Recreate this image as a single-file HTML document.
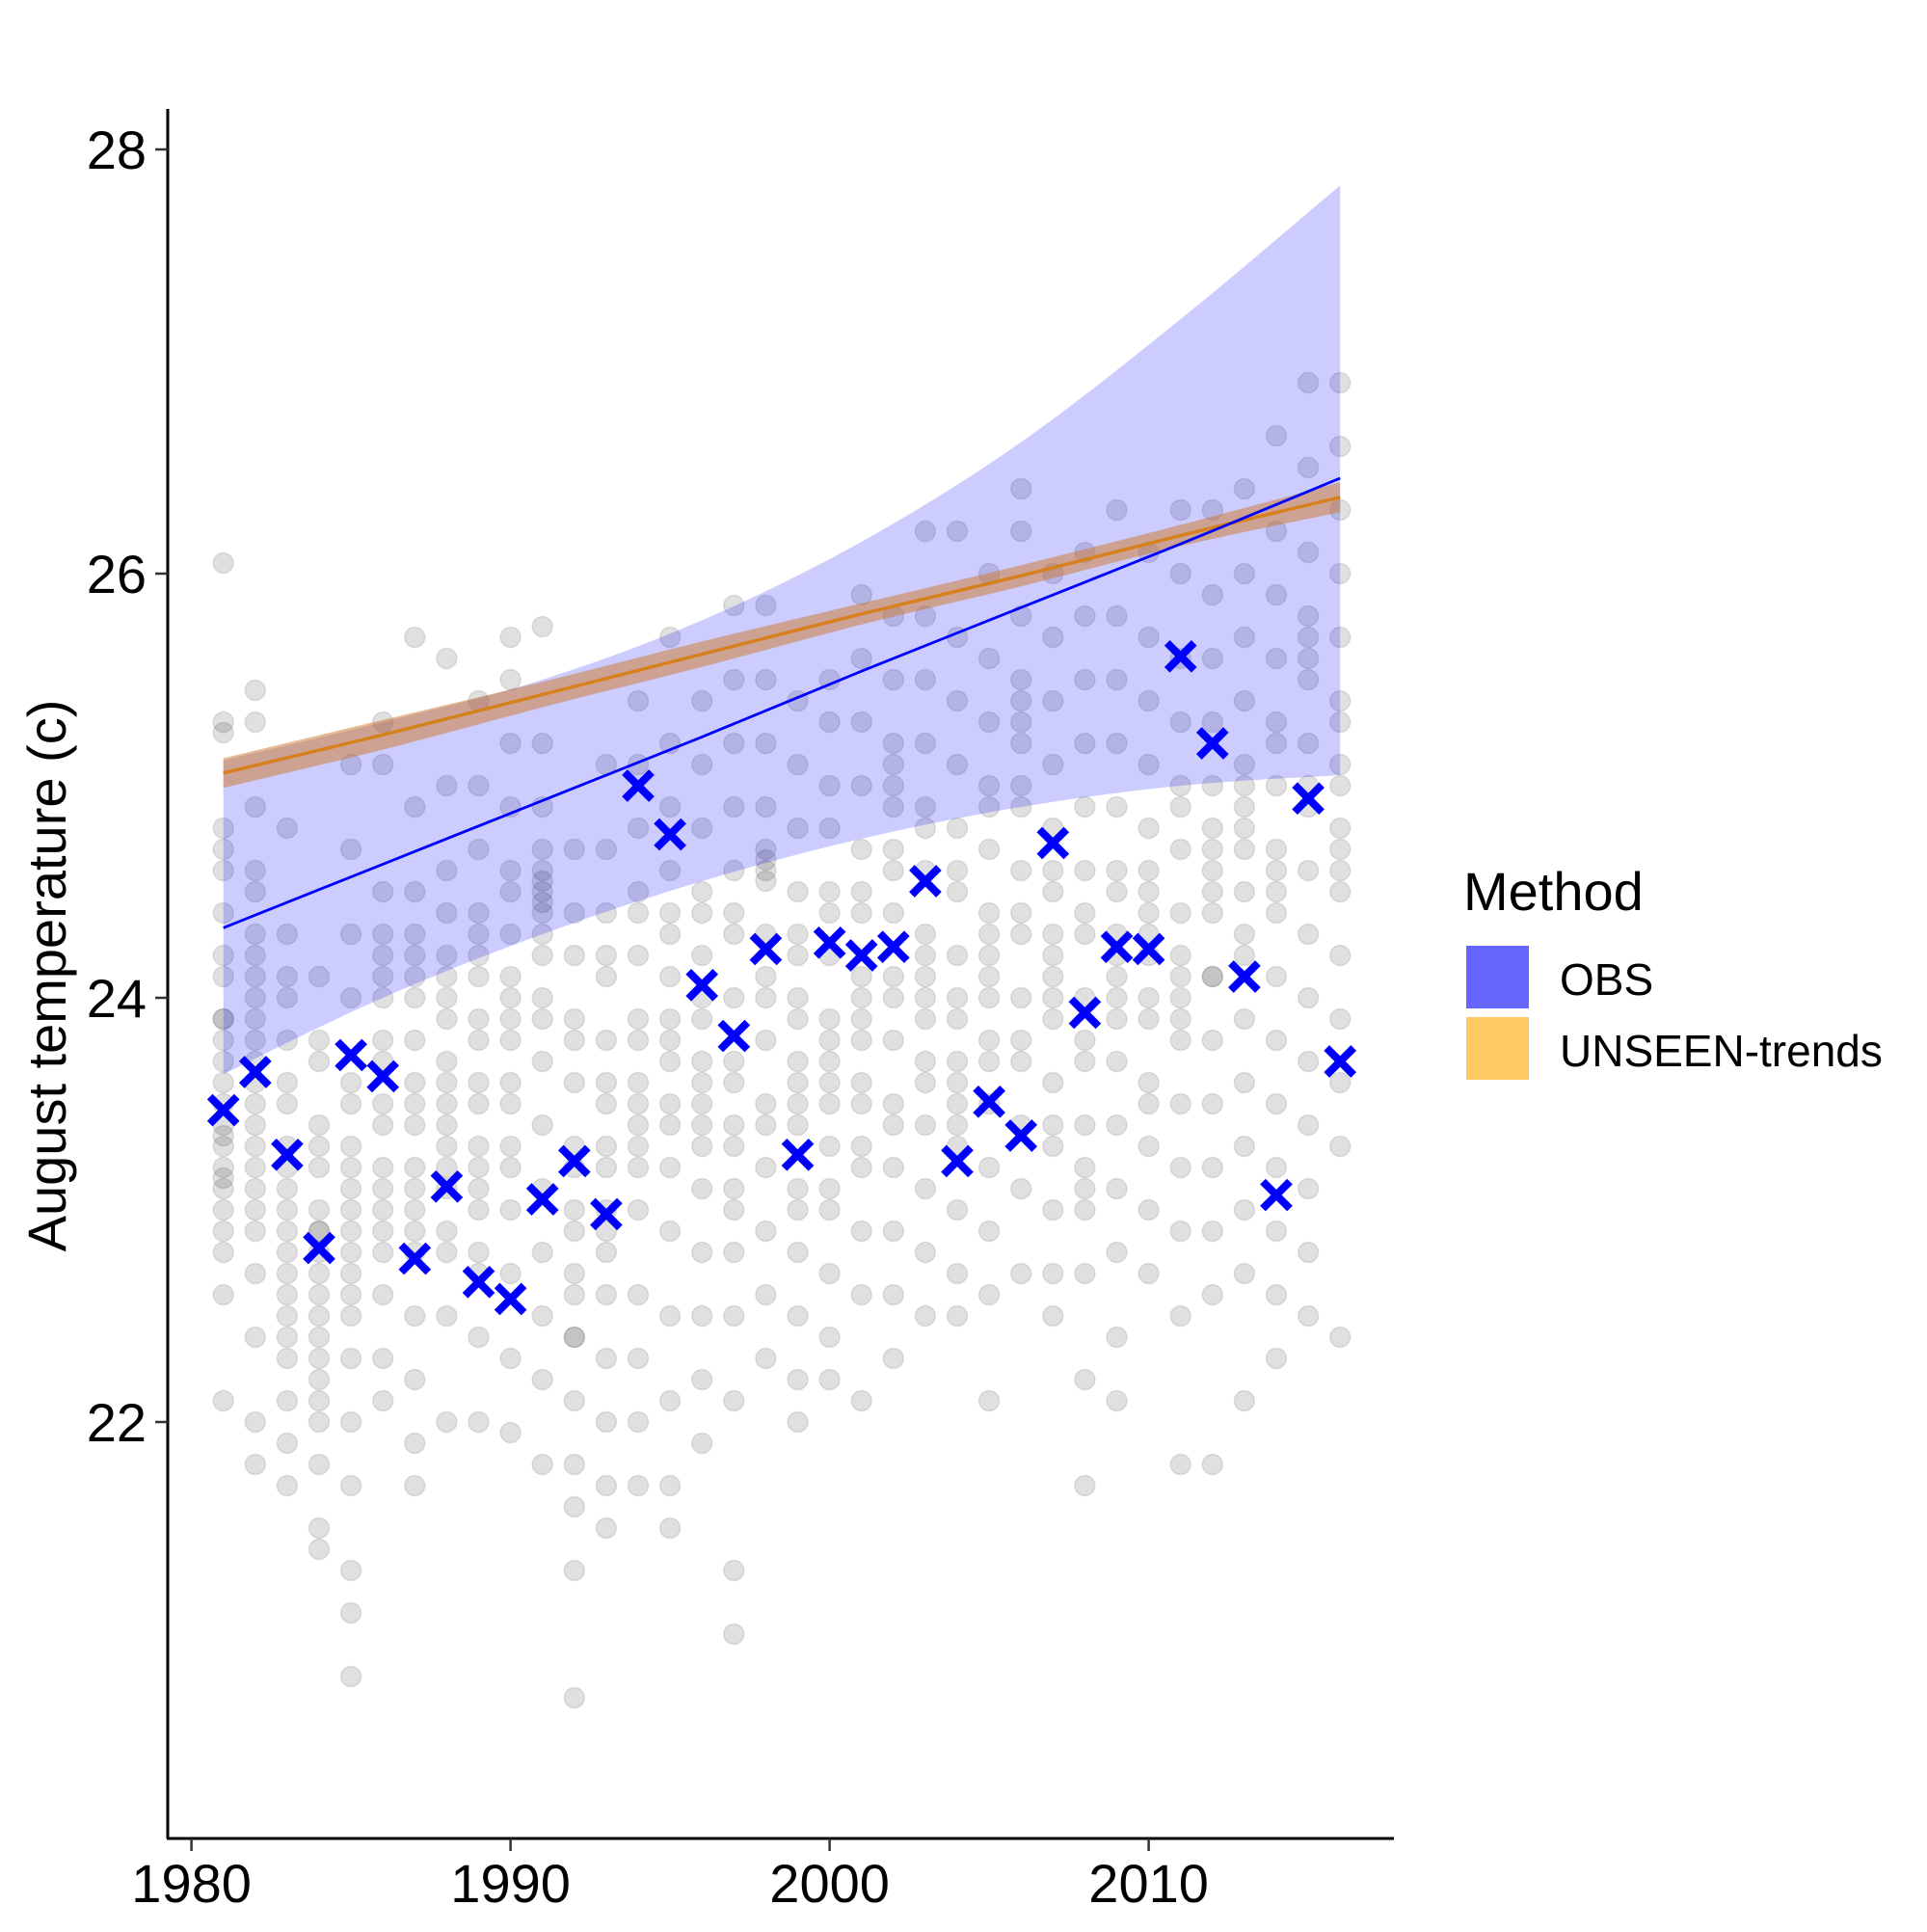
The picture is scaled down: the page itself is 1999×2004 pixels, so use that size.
<!DOCTYPE html>
<html><head><meta charset="utf-8"><style>
html,body{margin:0;padding:0;background:#fff;}
svg text{font-family:"Liberation Sans",Arial,sans-serif;}
</style></head><body>
<svg id="chart" width="1999" height="1999" viewBox="0 0 1999 1999" xmlns="http://www.w3.org/2000/svg">
<g id="pts"></g>
<g id="bands"></g>
<g id="lines"></g>
<g id="obs"></g>
<g id="axes"></g>
<text x="0" y="0" font-size="56" text-anchor="middle" transform="translate(68,1012) rotate(-90)">August temperature (c)</text>
<g>
<text x="1518" y="944" font-size="56">Method</text>
<rect x="1521" y="981" width="65" height="65" fill="#6666ff"/>
<rect x="1521" y="1055" width="65" height="65" fill="#ffc966"/>
<text x="1618" y="1032" font-size="46">OBS</text>
<text x="1618" y="1106" font-size="46">UNSEEN-trends</text>
</g>
</svg>
<script>
const years = [1981,1982,1983,1984,1985,1986,1987,1988,1989,1990,1991,1992,1993,1994,1995,1996,1997,1998,1999,2000,2001,2002,2003,2004,2005,2006,2007,2008,2009,2010,2011,2012,2013,2014,2015,2016];
const obsValues = [23.47,23.65,23.26,22.82,23.73,23.63,22.77,23.11,22.66,22.58,23.05,23.23,22.98,25.0,24.77,24.06,23.82,24.23,23.26,24.26,24.20,24.24,24.55,23.23,23.51,23.35,24.73,23.93,24.24,24.23,25.61,25.20,24.10,23.07,24.94,23.70];
const ensemble = [
[26.05,25.3,25.25,24.8,24.6,24.4,24.1,23.9,23.7,23.5,23.3,23.1,22.9,22.6,22.1,24.2,23.8,23.0,24.7,23.4,22.8,23.2,23.6,23.9,23.35,23.15],
[25.45,25.3,24.9,24.5,24.3,24.1,23.9,23.7,23.5,23.3,23.1,22.7,22.4,22.0,21.8,24.0,23.6,23.2,22.9,24.6,24.2,23.8,23.4,23.0],
[24.8,24.3,24.0,23.8,23.5,23.3,23.1,22.9,22.7,22.5,22.3,22.1,21.9,21.7,23.6,23.2,22.8,24.1,22.6,22.4,23.0],
[24.1,23.8,23.4,23.2,23.0,22.8,22.6,22.4,22.2,22.0,21.8,21.5,21.4,23.3,22.9,22.5,22.1,23.7,22.7,22.3,22.9],
[25.1,24.7,24.3,24.0,23.6,23.3,23.0,22.8,22.6,22.3,22.0,21.7,21.3,21.1,20.8,23.2,22.9,22.5,23.5,22.7,23.1],
[25.3,25.1,24.5,24.2,24.0,23.7,23.4,23.1,22.9,22.6,22.3,22.1,24.3,23.8,23.2,22.8,23.5,23.0,24.1],
[25.7,24.9,24.5,24.2,24.0,23.8,23.5,23.2,23.0,22.8,22.5,22.2,21.9,21.7,24.1,23.6,23.1,24.3,23.4,22.9],
[25.6,25.0,24.6,24.4,24.1,23.9,23.6,23.4,23.1,22.8,22.5,22.0,24.2,23.7,23.3,22.9,23.5,23.2,24.0],
[25.4,25.0,24.7,24.4,24.2,23.9,23.6,23.3,23.0,22.7,22.4,22.0,24.1,23.8,23.2,22.8,23.5,23.1,24.3],
[25.7,25.5,25.2,24.9,24.6,24.3,24.0,23.8,23.5,23.2,23.0,22.7,22.3,21.95,24.5,24.1,23.6,23.3,23.9],
[25.75,25.2,24.9,24.7,24.5,24.3,24.0,23.7,23.4,23.1,22.8,22.5,22.2,21.8,24.6,24.4,23.9,24.55,24.45,24.2],
[24.7,24.4,24.2,23.9,23.6,23.3,23.0,22.7,22.4,22.1,21.8,21.6,21.3,20.7,23.8,23.2,22.6,22.4,22.9],
[25.1,24.7,24.4,24.1,23.8,23.5,23.2,22.9,22.6,22.3,22.0,21.7,21.5,24.2,23.6,23.0,23.3,22.8],
[25.4,25.1,24.8,24.5,24.2,23.9,23.6,23.3,23.0,22.6,22.3,22.0,21.7,24.4,23.8,23.2,23.5,23.4],
[25.7,25.2,24.9,24.6,24.4,24.1,23.8,23.5,23.2,22.9,22.5,22.1,21.7,21.5,24.3,23.7,23.9,23.4],
[25.4,25.1,24.8,24.5,24.2,24.0,23.7,23.4,23.1,22.8,22.5,22.2,21.9,24.4,23.9,23.3,23.6,23.5],
[25.85,25.5,25.2,24.9,24.6,24.3,24.0,23.7,23.4,23.1,22.8,22.5,22.1,21.3,21.0,24.4,23.6,23.3,23.0],
[25.85,25.5,25.2,24.9,24.6,24.3,24.0,23.8,23.5,23.2,22.9,22.6,22.3,24.7,24.1,23.4,24.65,24.55],
[25.4,25.1,24.8,24.5,24.3,24.0,23.7,23.4,23.1,22.8,22.5,22.2,22.0,24.2,23.6,23.0,23.9,23.5],
[25.5,25.3,25.0,24.8,24.5,24.2,23.9,23.6,23.3,23.0,22.7,22.4,22.2,24.4,23.8,23.1,23.5,23.7],
[25.9,25.6,25.3,25.0,24.7,24.4,24.1,23.8,23.5,23.2,22.9,22.6,22.1,24.5,23.9,23.3,23.6,24.0],
[25.8,25.5,25.2,24.9,24.7,24.4,24.1,23.8,23.5,23.2,22.9,22.6,22.3,24.6,24.0,23.4,25.0,25.1],
[26.2,25.8,25.5,25.2,24.9,24.6,24.3,24.0,23.7,23.4,23.1,22.8,22.5,24.8,24.2,23.6,23.9,24.1],
[26.2,25.7,25.4,25.1,24.8,24.5,24.2,23.9,23.6,23.3,23.0,22.7,22.5,24.6,24.0,23.4,23.7,23.5],
[26.0,25.6,25.3,25.0,24.7,24.4,24.1,23.8,23.5,23.2,22.9,22.6,22.1,24.9,24.3,23.7,24.2,24.0],
[26.4,26.2,25.8,25.5,25.2,24.9,24.6,24.3,24.0,23.7,23.4,23.1,22.7,25.0,24.4,23.8,25.4,25.3],
[26.0,25.7,25.4,25.1,24.8,24.5,24.2,23.9,23.6,23.3,23.0,22.7,22.5,24.6,24.0,23.4,24.3,24.1],
[26.1,25.8,25.5,25.2,24.9,24.6,24.3,24.0,23.7,23.4,23.1,22.7,22.2,21.7,24.4,23.8,23.0,23.2],
[26.3,25.8,25.5,25.2,24.9,24.6,24.3,24.0,23.7,23.4,23.1,22.8,22.4,22.1,24.5,23.9,24.2,24.1],
[26.1,25.7,25.4,25.1,24.8,24.5,24.2,23.9,23.6,23.3,23.0,22.7,24.6,24.0,23.5,24.3,24.4],
[26.3,26.0,25.6,25.3,25.0,24.7,24.4,24.1,23.8,23.5,23.2,22.9,22.5,21.8,24.9,24.2,24.0,23.9],
[26.3,25.9,25.6,25.3,25.0,24.7,24.4,24.1,23.8,23.5,23.2,22.9,22.6,21.8,24.8,24.1,24.6,24.5],
[26.4,26.0,25.7,25.4,25.1,24.8,24.5,24.2,23.9,23.6,23.3,23.0,22.7,22.1,24.9,24.3,25.0,24.7],
[26.65,26.2,25.9,25.6,25.3,25.0,24.7,24.4,24.1,23.8,23.5,23.2,22.9,22.6,22.3,25.2,24.6,24.5],
[26.9,26.5,26.1,25.8,25.5,25.2,24.9,24.6,24.3,24.0,23.7,23.4,23.1,22.8,22.5,25.0,25.6,25.7],
[26.9,26.6,26.3,26.0,25.7,25.4,25.1,24.8,24.5,24.2,23.9,23.6,23.3,22.4,25.3,24.6,24.7,25.0]
];
const bandYears = [1981,1986,1991,1996,2001,2006,2011,2016];
const obsUpper = [25.12,25.3,25.5,25.78,26.15,26.62,27.2,27.83];
const obsLower = [23.64,24.0,24.3,24.55,24.75,24.9,25.0,25.05];
const obsFit = [24.33,24.63,24.93,25.23,25.54,25.84,26.14,26.45];
const unseenFit = [25.06,25.24,25.43,25.62,25.81,25.99,26.18,26.36];
const unseenUpper = [25.13,25.31,25.49,25.68,25.86,26.04,26.23,26.43];
const unseenLower = [24.99,25.17,25.37,25.56,25.76,25.94,26.13,26.29];
const xTicks = [1980,1990,2000,2010];
const yTicks = [22,24,26,28];

const NS="http://www.w3.org/2000/svg";
const X = yr => 198.6 + (yr-1980)*33.1;
const Y = v => 155 + (28-v)*220;
function mk(tag, attrs, parent){const e=document.createElementNS(NS,tag);for(const k in attrs)e.setAttribute(k,attrs[k]);parent.appendChild(e);return e;}

const pts=document.getElementById('pts');
ensemble.forEach((vals,i)=>{vals.forEach(v=>{
  const c=mk('circle',{cx:X(years[i]),cy:Y(v),r:10.5,fill:'rgba(0,0,0,0.12)',stroke:'rgba(0,0,0,0.1)','stroke-width':1.5},pts);
  
  
});});

// smooth curve through points (Catmull-Rom)
function smooth(pp, start){
  let d=start?('M'+pp[0][0]+' '+pp[0][1]):('L'+pp[0][0]+' '+pp[0][1]);
  for(let i=0;i<pp.length-1;i++){
    const p0=pp[Math.max(0,i-1)],p1=pp[i],p2=pp[i+1],p3=pp[Math.min(pp.length-1,i+2)];
    const c1=[p1[0]+(p2[0]-p0[0])/6,p1[1]+(p2[1]-p0[1])/6];
    const c2=[p2[0]-(p3[0]-p1[0])/6,p2[1]-(p3[1]-p1[1])/6];
    d+=` C${c1[0]} ${c1[1]} ${c2[0]} ${c2[1]} ${p2[0]} ${p2[1]}`;
  }
  return d;
}
function bandPath(up,lo){
  const u=bandYears.map((y,i)=>[X(y),Y(up[i])]);
  const l=bandYears.map((y,i)=>[X(y),Y(lo[i])]).reverse();
  return smooth(u,true)+' '+smooth(l,false)+' Z';
}
function linePath(v){return smooth(bandYears.map((y,i)=>[X(y),Y(v[i])]),true);}
const bands=document.getElementById('bands');
const b1=mk('path',{d:bandPath(obsUpper,obsLower),fill:'rgba(0,0,255,0.2)'},bands);


const b2=mk('path',{d:bandPath(unseenUpper,unseenLower),fill:'rgba(205,120,40,0.5)'},bands);


const lines=document.getElementById('lines');
const l2=mk('path',{d:linePath(unseenFit),fill:'none',stroke:'#d9801e','stroke-width':3.5},lines);


const l1=mk('path',{d:linePath(obsFit),fill:'none',stroke:'#0000ff','stroke-width':2.8},lines);



const obs=document.getElementById('obs');
obsValues.forEach((v,i)=>{const x=X(years[i]),y=Y(v),s=14;
  const p=mk('path',{d:`M${x-s} ${y-s}L${x+s} ${y+s}M${x-s} ${y+s}L${x+s} ${y-s}`,stroke:'#0000ff','stroke-width':8,fill:'none'},obs);
  
  
});

const axes=document.getElementById('axes');
mk('line',{x1:174,y1:113,x2:174,y2:1907,stroke:'#000','stroke-width':3},axes);
mk('line',{x1:173,y1:1907,x2:1446,y2:1907,stroke:'#000','stroke-width':3},axes);
xTicks.forEach(t=>{
  mk('line',{x1:X(t),y1:1907,x2:X(t),y2:1920,stroke:'#333','stroke-width':2.5},axes);
  const tx=mk('text',{x:X(t),y:1973,'font-size':56,'text-anchor':'middle',fill:'#000'},axes);
  tx.textContent=t;
  
  
});
yTicks.forEach(t=>{
  mk('line',{x1:161,y1:Y(t),x2:174,y2:Y(t),stroke:'#333','stroke-width':2.5},axes);
  const tx=mk('text',{x:152,y:Y(t)+20,'font-size':56,'text-anchor':'end',fill:'#000'},axes);
  tx.textContent=t;
  
  
});
</script>
</body></html>
